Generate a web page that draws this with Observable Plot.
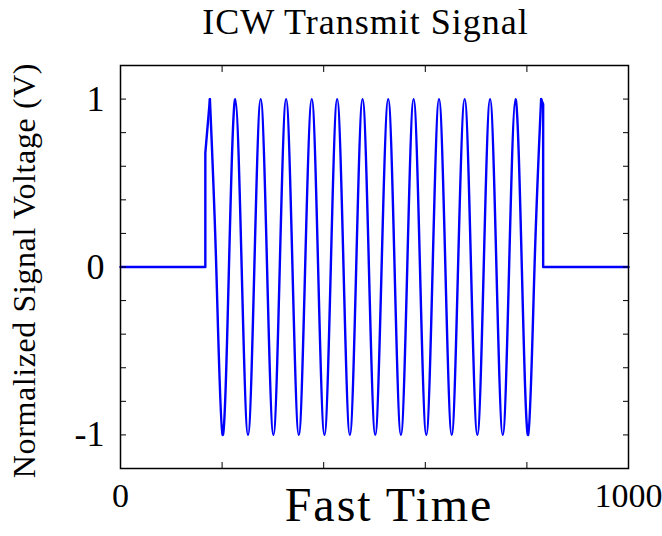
<!DOCTYPE html>
<html>
<head>
<meta charset="utf-8">
<script src="https://cdn.jsdelivr.net/npm/d3@7"></script>
<script src="https://cdn.jsdelivr.net/npm/@observablehq/plot@0.6"></script>
<style>
  body { margin: 0; background: #fff; }
  #chart { width: 662px; height: 536px; }
</style>
</head>
<body>
<div id="chart"></div>
<script>
// Idle line before the pulse, up to the first peak (fast-time samples, volts)
const leadTime = [0, 167, 167, 176];
const leadVolt = [0, 0, 0.68, 1];

// Pulse body: every peak, zero crossing and trough from the first peak to the last
const pulseTime = [
  176, 188.5, 201, 213.5,
  226, 238.5, 251, 263.5,
  276, 288.5, 301, 313.5,
  326, 338.5, 351, 363.5,
  376.5, 389, 401.5, 414,
  426.5, 439, 451.5, 464,
  476.5, 489, 501.5, 514,
  527, 539.5, 552, 564.5,
  577, 589.5, 602, 614.5,
  627, 639.5, 652, 664.5,
  677.5, 690, 702.5, 715,
  727.5, 740, 752.5, 765,
  777.5, 790, 802.5, 815,
  828
];
const pulseVolt = [
  1, 0, -1, 0,
  1, 0, -1, 0,
  1, 0, -1, 0,
  1, 0, -1, 0,
  1, 0, -1, 0,
  1, 0, -1, 0,
  1, 0, -1, 0,
  1, 0, -1, 0,
  1, 0, -1, 0,
  1, 0, -1, 0,
  1, 0, -1, 0,
  1, 0, -1, 0,
  1, 0, -1, 0,
  1
];

// From the last peak to the cut-off, then idle again
const tailTime = [828, 832, 832, 1000];
const tailVolt = [1, 0.97, 0, 0];

// Axis ticks and the ones that carry labels
const xTicks = [0, 200, 400, 600, 800, 1000];
const xTickLabels = [0, 1000];
const yTicks = [-1, -0.8, -0.6, -0.4, -0.2, 0, 0.2, 0.4, 0.6, 0.8, 1];
const yTickLabels = [-1, 0, 1];

const titleText = "ICW Transmit Signal";
const xLabelText = "Fast Time";
const yLabelText = "Normalized Signal Voltage (V)";

const table = (ts, vs) => ts.map((t, i) => ({t, v: vs[i]}));
const lead = table(leadTime, leadVolt);
const pulse = table(pulseTime, pulseVolt);
const tail = table(tailTime, tailVolt);

const blue = "#0000ff";
const font = "'Liberation Serif', 'Times New Roman', serif";

const chart = Plot.plot({
  width: 662,
  height: 536,
  marginLeft: 120,
  marginRight: 34,
  marginTop: 65,
  marginBottom: 68,
  x: {domain: [0, 1000]},
  y: {domain: [-1.2, 1.2]},
  style: {fontFamily: font, background: "#fff", color: "#000", overflow: "visible"},
  marks: [
    Plot.line(lead, {x: "t", y: "v", stroke: blue, strokeWidth: 2.4}),
    Plot.line(pulse, {x: "t", y: "v", stroke: blue, strokeWidth: 2.4, curve: "natural"}),
    Plot.line(tail, {x: "t", y: "v", stroke: blue, strokeWidth: 2.4}),
    Plot.frame({stroke: "#000", strokeWidth: 1.5}),
    Plot.axisX({
      anchor: "bottom", ticks: xTicks, tickSize: -6, tickPadding: 20,
      tickFormat: d => xTickLabels.includes(d) ? String(d) : "",
      fontSize: 34, label: null
    }),
    Plot.axisX({anchor: "top", ticks: xTicks, tickSize: -6, tickFormat: () => "", label: null}),
    Plot.axisY({
      anchor: "left", ticks: yTicks, tickSize: -6, tickPadding: 22,
      tickFormat: d => yTickLabels.includes(d) ? String(d) : "",
      fontSize: 36, label: null
    }),
    Plot.axisY({anchor: "right", ticks: yTicks, tickSize: -6, tickFormat: () => "", label: null}),
    Plot.text([titleText], {
      text: d => d, frameAnchor: "top", textAnchor: "middle", lineAnchor: "middle",
      dx: -9, dy: -43.5, fontSize: 36
    }),
    Plot.text([xLabelText], {
      text: d => d, frameAnchor: "bottom", textAnchor: "middle", lineAnchor: "middle",
      dx: 14.5, dy: 37.6, fontSize: 48
    }),
    Plot.text([yLabelText], {
      text: d => d, frameAnchor: "left", textAnchor: "middle", lineAnchor: "middle", rotate: -90,
      dx: -95.5, dy: 3.5, fontSize: 32
    })
  ]
});

// Letter spacing for the wide serif headings
const spacing = new Map([[titleText, "1px"], [xLabelText, "2px"], [yLabelText, "0.6px"]]);
d3.select(chart).selectAll("text").each(function () {
  const s = spacing.get(this.textContent);
  if (s) this.style.letterSpacing = s;
});

document.getElementById("chart").appendChild(chart);
</script>
</body>
</html>
